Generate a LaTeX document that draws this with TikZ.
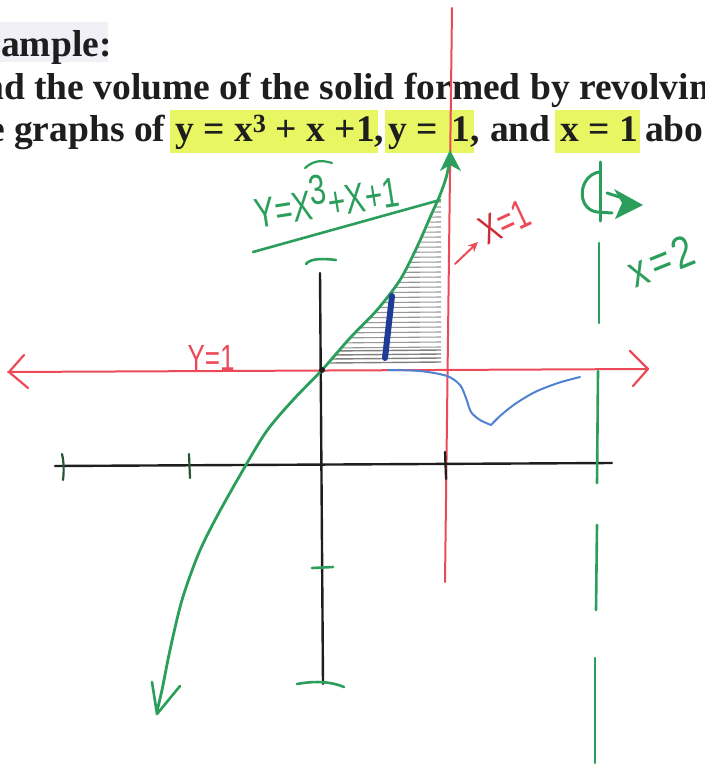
\documentclass[tikz,border=0pt]{standalone}
\usepackage{fontspec}
\setmainfont{Liberation Serif}
\newfontfamily\handfont{Liberation Sans}
\usetikzlibrary{arrows.meta,calc}
\definecolor{penred}{RGB}{236,74,88}
\definecolor{darkred}{RGB}{205,45,55}
\definecolor{pengreen}{RGB}{44,158,92}
\definecolor{penblue}{RGB}{80,130,210}
\definecolor{darkblue}{RGB}{30,60,150}
\definecolor{hl}{RGB}{232,246,100}
\definecolor{hatchgray}{RGB}{150,150,150}
\definecolor{inkblack}{RGB}{30,30,30}
\definecolor{tickgreen}{RGB}{40,85,55}
\definecolor{bandgray}{RGB}{240,240,246}
\begin{document}
\begin{tikzpicture}[x=1pt,y=-1pt,
  title/.style={font=\fontsize{37.5}{42}\selectfont\bfseries, inner sep=0pt, anchor=base west, text=inkblack},
  hand/.style={font=\handfont\fontsize{26}{28}\selectfont, inner sep=0pt},
  gline/.style={draw=pengreen, line width=2.6pt, line cap=round, line join=round},
  rline/.style={draw=penred, line width=2pt, line cap=round, line join=round},
  kline/.style={draw=inkblack, line width=2.4pt, line cap=round}]
\useasboundingbox (0,0) rectangle (704,767);
\fill[white] (0,0) rectangle (704,767);
\clip (0,0) rectangle (704,767);

% heading: band and highlights
\fill[bandgray] (0,22) rectangle (108,62);
\fill[hl] (170,110) rectangle (378,153);
\fill[hl] (385,110) rectangle (474,153);
\fill[hl] (555,110) rectangle (640,153);

% heading text
\node[title] (l1) at (1,57) {ample:};
\node[title] (l2s) at (-17,100) {n};
\node[title] (l2) at (4,100) {d the volume of the solid formed by revolvi};
\node[title] (l2e) at ([xshift=0.5pt]l2.base east) {n};
\node[title] (l3s) at (-12,142) {e};
\node[title] (l3a) at (14,142) {graphs of};
\node[title] (l3b) at (175,142) {y = x\textsuperscript{3} + x +1,};
\node[title] (l3d) at (388,142) {y =\hspace{14pt}1,};
\node[title] (l3e) at (490,142) {and};
\node[title] (l3f) at (560,142) {x = 1};
\node[title] (l3g) at (645,142) {abo};

% hatching of the region
\begin{scope}
  \clip plot[smooth] coordinates {(326,368) (352,337) (379,309) (402,279) (419,246) (434,212) (441,195)}
     -- (441,195) -- (441,366) -- (326,366) -- cycle;
  \foreach \yy in {197,202,...,347}
    \draw[hatchgray, line width=1.1pt] (330,\yy+1) -- (442,\yy);
  \foreach \yy in {351,355,359,363}
    \draw[gray, line width=1.4pt] (330,\yy) -- (442,\yy-1);
\end{scope}

% red lines
\draw[rline] (452,8) -- (445,582);
\draw[rline] (8,372) -- (648,369);
\draw[rline, line width=2.2pt] (24,355) -- (9,372) -- (28,388);
\draw[rline, line width=2.2pt] (630,351) -- (648,369) -- (633,386);

% black axes
\draw[kline] (320,273) -- (323,684);
\draw[kline] (55,466) -- (612,463);
\draw[tickgreen, line width=2.2pt, line cap=round] (62,454) .. controls (64,462) and (64,472) .. (63,480);
\draw[tickgreen, line width=2.2pt, line cap=round] (189,454) -- (190,478);
\draw[kline, line width=2.2pt] (445,452) -- (446,479);

% green marks on the y axis
\draw[gline] (306,264) .. controls (310,259) and (320,258) .. (336,260);
\draw[gline] (312,568) -- (333,567);
\draw[gline] (297,684) .. controls (313,681) and (330,681) .. (344,687);

% green dashed axis x=2
\draw[gline] (599,243) -- (599,323);
\draw[gline] (598,371) -- (597,483);
\draw[gline] (597,525) -- (596,610);
\draw[gline] (595,658) -- (595,763);

% rotation symbol
\draw[gline, line width=3pt] (600,162) -- (600,221);
\draw[gline, line width=3pt] (599,172) .. controls (578,176) and (576,209) .. (597,212) -- (612,213);
\draw[gline, line width=3pt] (607,193) -- (632,201);
\fill[pengreen] (643,205) -- (614,189) -- (622,203) -- (615,219) -- cycle;

% green curve y = x^3 + x + 1
\draw[gline, line width=2.8pt] plot[smooth] coordinates {(157,711) (162,690) (170,650) (182,600) (198,555) (215,520) (239,477) (266,432) (293,400) (322,370) (350,338) (377,310) (400,280) (417,247) (432,213) (440,195) (446,178) (450,160)};
\fill[pengreen] (450,150) -- (440,171) -- (450,165) -- (461,171) -- cycle;
\draw[gline] (152,682) -- (157,714) -- (180,686);
\fill[inkblack] (322,370) circle (3pt);

% pointer line and label of the curve
\draw[gline] (253,252) -- (440,200);
\node[hand, text=pengreen, rotate=9, yscale=1.4, font=\handfont\fontsize{30}{32}\selectfont] (lcurve) at (326,196) {Y=X\raisebox{10pt}{3}+X+1};
\draw[gline, line width=2.2pt] (305,168) .. controls (314,160) and (322,160) .. (332,163);

% blue marks
\draw[darkblue, line width=6pt, line cap=round] (392,296) -- (385,358);
\draw[penblue, line width=2pt, line cap=round, line join=round] plot[smooth] coordinates {(388,370) (420,371) (447,376) (460,385) (466,398) (471,412) (480,420) (491,425)};
\draw[penblue, line width=2pt, line cap=round, line join=round] plot[smooth] coordinates {(491,425) (500,416) (515,404) (535,392) (558,383) (580,377)};

% red labels
\node[hand, text=penred, yscale=1.4] (ly1) at (211,358) {Y=1};
\draw[rline, -{Stealth[length=10pt,width=9pt]}] (455,264) -- (478,242);
\node[hand, rotate=25, yscale=1.45, font=\handfont\fontsize{28}{30}\selectfont] (lx1) at (505,222) {\textcolor{darkred}{X}\textcolor{penred}{=1}};

% green label x=2
\node[hand, text=pengreen, rotate=22, yscale=1.25, font=\handfont\fontsize{36}{38}\selectfont] (lx2) at (661,261) {x\hspace{4pt}=\hspace{4pt}2};
\end{tikzpicture}
\end{document}
